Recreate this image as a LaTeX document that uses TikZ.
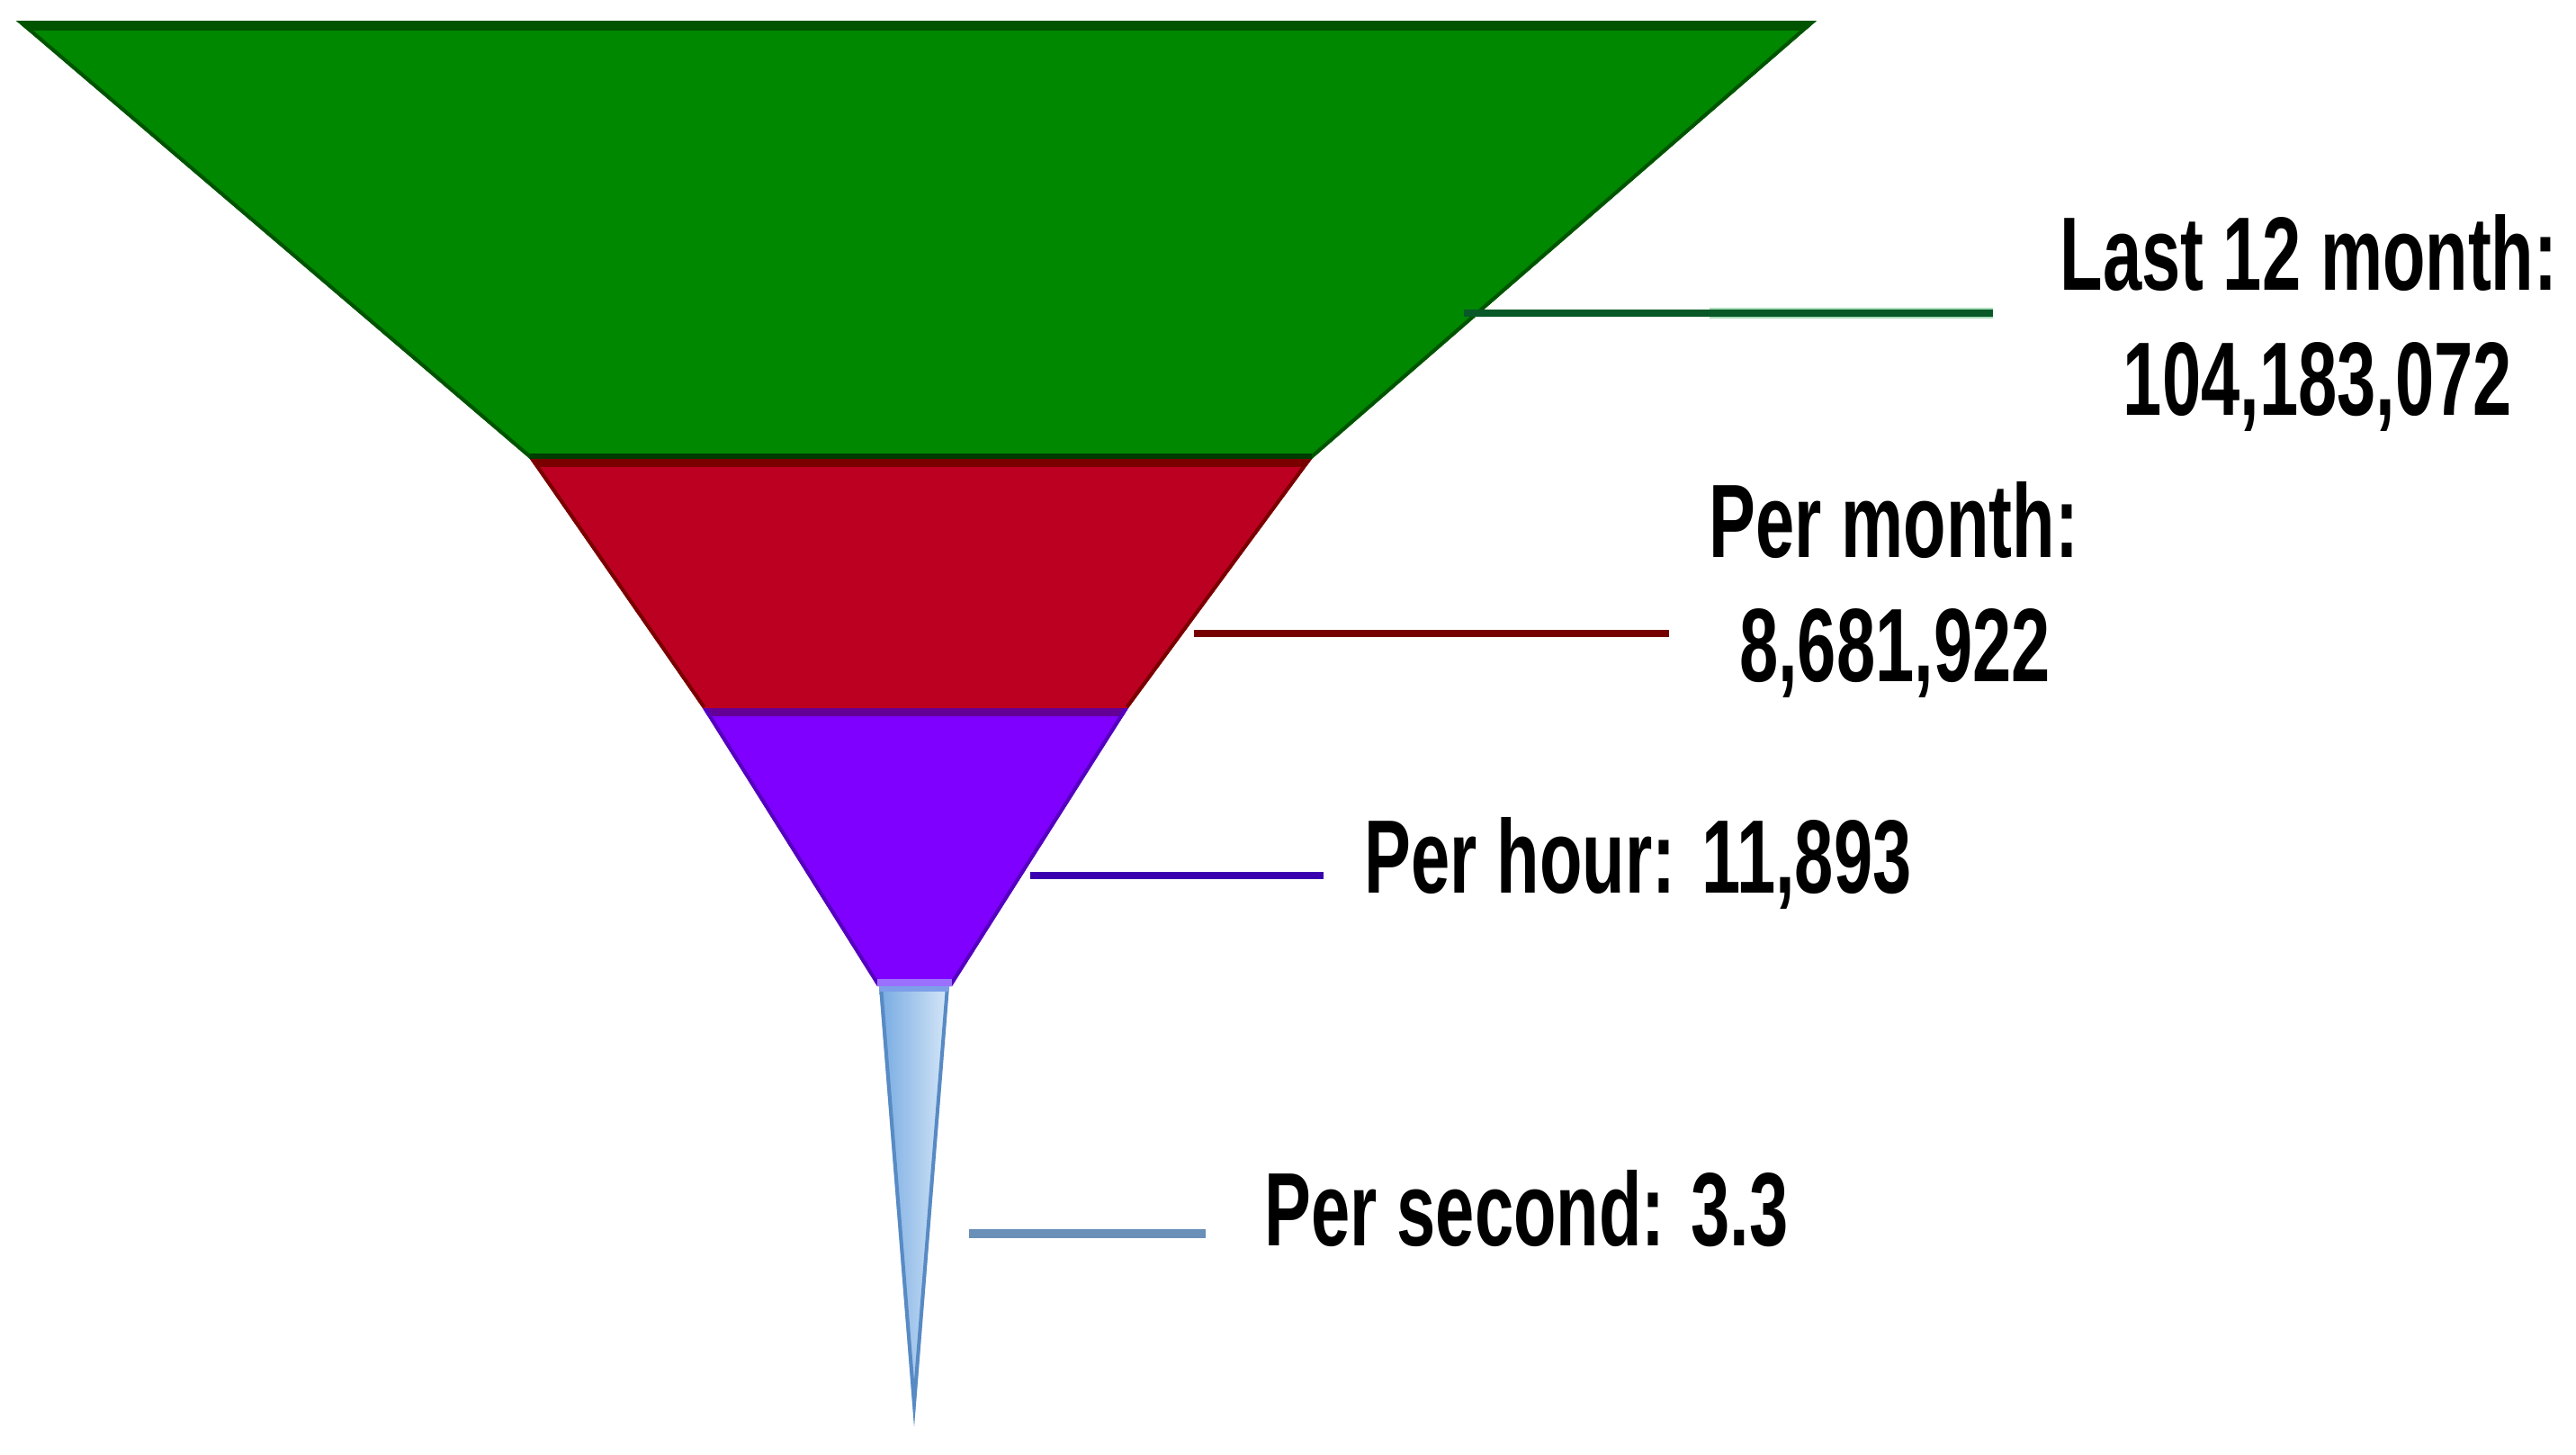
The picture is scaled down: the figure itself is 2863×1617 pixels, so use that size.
\documentclass[tikz,border=0pt]{standalone}
\usepackage{fontspec}
\newfontfamily\lblfont{Liberation Sans}[FakeStretch=0.67]
\definecolor{gfill}{RGB}{0,136,0}
\definecolor{gdark}{RGB}{0,84,0}
\definecolor{rfill}{RGB}{188,0,34}
\definecolor{rdark}{RGB}{122,0,0}
\definecolor{pfill}{RGB}{127,0,255}
\definecolor{pdark}{RGB}{85,0,190}
\definecolor{ptop}{RGB}{100,0,150}
\definecolor{plight}{RGB}{155,112,255}
\definecolor{bleft}{RGB}{118,170,226}
\definecolor{bright}{RGB}{214,231,248}
\definecolor{bdark}{RGB}{88,138,196}
\definecolor{gline}{RGB}{8,88,40}
\definecolor{gglow}{RGB}{170,222,185}
\definecolor{rline}{RGB}{118,0,0}
\definecolor{pline}{RGB}{58,0,176}
\definecolor{bline}{RGB}{106,143,184}
\begin{document}
\begin{tikzpicture}[x=0.25pt,y=-0.25pt,
  lbl/.style={font=\lblfont\bfseries\fontsize{29}{34.5}\selectfont, inner sep=0pt, text=black},
  conn/.style={line width=2pt},
]
\useasboundingbox (0,0) rectangle (2863,1617);
% funnel corner points
\coordinate (gTL) at (18,23);
\coordinate (gTR) at (2019,23);
\coordinate (gBR) at (1458,510);
\coordinate (gBL) at (589,510);
\coordinate (rBL) at (781,787);
\coordinate (rBR) at (1254,787);
\coordinate (pBL) at (975,1096);
\coordinate (pBR) at (1058,1096);
\coordinate (bTL) at (977,1096);
\coordinate (bTR) at (1055,1096);
\coordinate (bTip) at (1016,1585);
% green
\fill[gfill] (gTL)--(gTR)--(gBR)--(gBL)--cycle;
\begin{scope}
  \clip (gTL)--(gTR)--(gBR)--(gBL)--cycle;
  \draw[gdark, line width=5.5pt] (gTL)--(gTR);
  \draw[gdark, line width=2pt] (gTL)--(gBL) (gTR)--(gBR);
  \draw[gdark!70!black, line width=3pt] (gBL)--(gBR);
\end{scope}
% red
\fill[rfill] (gBL)--(gBR)--(rBR)--(rBL)--cycle;
\begin{scope}
  \clip (gBL)--(gBR)--(rBR)--(rBL)--cycle;
  \draw[rdark, line width=4.5pt] (gBL)--(gBR);
  \draw[rdark, line width=2pt] (gBL)--(rBL) (gBR)--(rBR);
\end{scope}
% purple
\fill[pfill] (rBL)--(rBR)--(pBR)--(pBL)--cycle;
\begin{scope}
  \clip (rBL)--(rBR)--(pBR)--(pBL)--cycle;
  \draw[ptop, line width=4.5pt] (rBL)--(rBR);
  \draw[pdark, line width=2pt] (rBL)--(pBL) (rBR)--(pBR);
  \draw[plight, line width=4pt] (pBL)--(pBR);
\end{scope}
% blue spout
\shade[left color=bleft, right color=bright] (bTL)--(bTR)--(bTip)--cycle;
\begin{scope}
  \clip (bTL)--(bTR)--(bTip)--cycle;
  \draw[bdark, line width=2pt] (bTL)--(bTip)--(bTR);
  \draw[bleft!80!plight, line width=3pt] (bTL)--(bTR);
\end{scope}
% connector end points
\coordinate (c1a) at (1627,348);
\coordinate (c1b) at (2215,348);
\coordinate (c1g) at (1900,348);
\coordinate (c2a) at (1327,704);
\coordinate (c2b) at (1855,704);
\coordinate (c3a) at (1145,973);
\coordinate (c3b) at (1471,973);
\coordinate (c4a) at (1077,1371);
\coordinate (c4b) at (1340,1371);
% connectors
\draw[gglow, line width=3pt] (c1g) -- (c1b);
\draw[conn, gline] (c1a) -- (c1b);
\draw[conn, rline] (c2a) -- (c2b);
\draw[conn, pline] (c3a) -- (c3b);
\draw[conn, bline, line width=2.3pt] (c4a) -- (c4b);
% labels
\node[lbl, anchor=base] (l12a) at (2566,322) {Last 12 month:};
\node[lbl, anchor=base] (l12b) at (2576,461) {104,183,072};
\node[lbl, anchor=base] (pma) at (2105,619) {Per month:};
\node[lbl, anchor=base] (pmb) at (2106,757) {8,681,922};
\node[lbl, anchor=base west] (ph) at (1516,992) {Per hour: 11,893};
\node[lbl, anchor=base west] (ps) at (1405,1384) {Per second: 3.3};
\end{tikzpicture}
\end{document}
